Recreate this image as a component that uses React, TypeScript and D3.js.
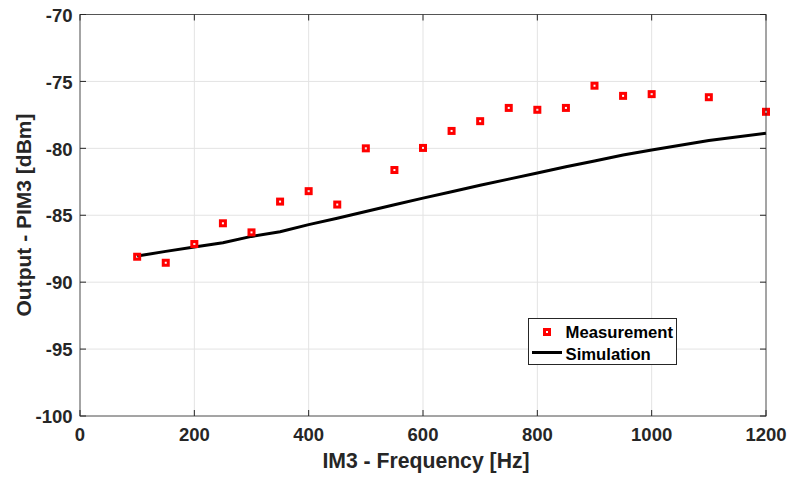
import React from "react";
import * as d3 from "d3";

const freqs = [100, 150, 200, 250, 300, 350, 400, 450, 500, 550, 600, 650, 700, 750, 800, 850, 900, 950, 1000, 1100, 1200];
const measurement = [-88.1, -88.55, -87.15, -85.6, -86.28, -83.98, -83.2, -84.2, -80.0, -81.62, -79.97, -78.7, -77.97, -76.98, -77.12, -76.98, -75.32, -76.08, -75.95, -76.18, -77.27];
const simulation = [-88.05, -87.7, -87.38, -87.05, -86.58, -86.23, -85.7, -85.22, -84.72, -84.22, -83.72, -83.24, -82.76, -82.3, -81.84, -81.38, -80.94, -80.5, -80.12, -79.42, -78.88];
const xTicks = [0, 200, 400, 600, 800, 1000, 1200];
const yTicks = [-100, -95, -90, -85, -80, -75, -70];

export default function App() {
  const W = 788, H = 477;
  const L = 80, R = 766, T = 14.5, B = 416;
  const x = d3.scaleLinear().domain([0, 1200]).range([L, R]);
  const y = d3.scaleLinear().domain([-100, -70]).range([B, T]);
  const line = d3.line<number>().x((_, i) => x(freqs[i])).y((d) => y(d));
  const axisColor = "#262626";
  const font = "'Liberation Sans', Arial, Helvetica, sans-serif";
  const tickLen = 6;
  return (
    <svg width={W} height={H} style={{ position: "absolute", left: 0, top: 0 }} fontFamily={font}>
      <rect x={0} y={0} width={W} height={H} fill="#fff" />
      {xTicks.map((t) => (
        <line key={"gx" + t} x1={x(t)} x2={x(t)} y1={T} y2={B} stroke="#e3e3e3" strokeWidth={1} />
      ))}
      {yTicks.map((t) => (
        <line key={"gy" + t} x1={L} x2={R} y1={y(t)} y2={y(t)} stroke="#e3e3e3" strokeWidth={1} />
      ))}
      <path d={line(simulation) || ""} fill="none" stroke="#000" strokeWidth={3} strokeLinejoin="round" />
      {measurement.map((v, i) => (
        <rect key={"m" + i} x={x(freqs[i]) - 2.5} y={y(v) - 2.5} width={5} height={5} fill="none" stroke="#ff0000" strokeWidth={3} />
      ))}
      <rect x={L} y={T} width={R - L} height={B - T} fill="none" stroke={axisColor} strokeWidth={1} opacity={0.75} />
      {xTicks.map((t) => (
        <g key={"tx" + t}>
          <line x1={x(t)} x2={x(t)} y1={B} y2={B - tickLen} stroke={axisColor} />
          <line x1={x(t)} x2={x(t)} y1={T} y2={T + tickLen} stroke={axisColor} />
          <text x={x(t)} y={441} textAnchor="middle" fontSize={18.5} fontWeight="bold" fill={axisColor}>{t}</text>
        </g>
      ))}
      {yTicks.map((t) => (
        <g key={"ty" + t}>
          <line x1={L} x2={L + tickLen} y1={y(t)} y2={y(t)} stroke={axisColor} />
          <line x1={R} x2={R - tickLen} y1={y(t)} y2={y(t)} stroke={axisColor} />
          <text x={72.5} y={y(t) + 7.2} textAnchor="end" fontSize={18.5} fontWeight="bold" fill={axisColor}>{t}</text>
        </g>
      ))}
      <text x={426} y={468.3} textAnchor="middle" fontSize={21.2} fontWeight="bold" fill={axisColor}>IM3 - Frequency [Hz]</text>
      <text transform={`translate(30.5, 215) rotate(-90)`} textAnchor="middle" fontSize={21} fontWeight="bold" fill={axisColor}>Output - PIM3 [dBm]</text>
      <g>
        <rect x={528.5} y={318.5} width={148} height={46} fill="#fff" stroke={axisColor} strokeWidth={1} />
        <rect x={547 - 2.5} y={332 - 2.5} width={5} height={5} fill="none" stroke="#ff0000" strokeWidth={3} />
        <text x={565.5} y={337.7} fontSize={16.7} fontWeight="bold" fill="#000">Measurement</text>
        <line x1={532} x2={562} y1={352.5} y2={352.5} stroke="#000" strokeWidth={3} />
        <text x={565.5} y={360} fontSize={16.7} fontWeight="bold" fill="#000">Simulation</text>
      </g>
    </svg>
  );
}
